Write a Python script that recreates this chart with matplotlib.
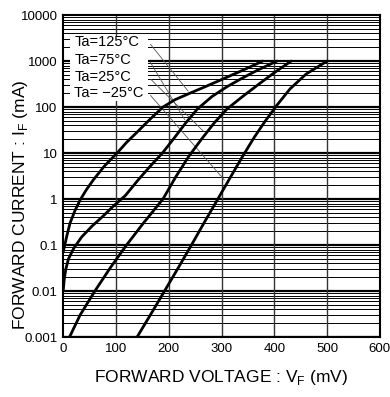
import numpy as np
import matplotlib
matplotlib.use("Agg")
import matplotlib.pyplot as plt

plt.rcParams['font.family'] = ['Liberation Sans', 'DejaVu Sans']
plt.rcParams['mathtext.fontset'] = 'custom'
plt.rcParams['mathtext.rm'] = 'Liberation Sans'

# forward voltage (mV) / forward current (mA)
v_125 = [0, 3, 7, 13, 22, 32, 44, 57, 78, 102, 120, 142, 165, 189, 212, 240, 270, 303, 340, 378]
i_125 = [0.07, 0.1, 0.16, 0.3, 0.55, 0.95, 1.6, 2.6, 5.2, 10, 17, 30, 55, 100, 145, 200,
         280, 410, 630, 1000]

v_75 = [0, 2, 5, 10, 20, 35, 55, 75, 95, 118, 142, 165, 188, 210, 232, 254, 282, 311, 340, 370, 405]
i_75 = [0.01, 0.018, 0.03, 0.05, 0.085, 0.15, 0.26, 0.42, 0.7, 1.2, 2.6, 5.2, 10,
        21, 45, 90, 170, 280, 430, 650, 1000]

v_25 = [12, 32, 60, 90, 120, 152, 189, 213, 238, 262, 286, 310, 340, 373, 400, 432]
i_25 = [0.001, 0.003, 0.01, 0.033, 0.1, 0.3, 1.0, 3.0, 8.5, 20, 45, 90, 170, 330, 560, 1000]

v_m25 = [140, 165, 192, 218, 243, 268, 293, 317, 340, 362, 383, 405, 430, 460, 500]
i_m25 = [0.001, 0.003, 0.01, 0.032, 0.1, 0.32, 1.0, 3.0, 8.5, 22, 50, 110, 250, 520, 1000]

curves = [(v_125, i_125, 'Ta=125°C'),
          (v_75, i_75, 'Ta=75°C'),
          (v_25, i_25, 'Ta=25°C'),
          (v_m25, i_m25, 'Ta= \u221225°C')]
# voltage where each label's leader line meets its curve
leader_v = [240, 233, 269, 309]

x_ticks = [0, 100, 200, 300, 400, 500, 600]
y_ticks = [0.001, 0.01, 0.1, 1, 10, 100, 1000, 10000]
y_ticklabels = ['0.001', '0.01', '0.1', '1', '10', '100', '1000', '10000']

fig = plt.figure(figsize=(3.9, 3.97), dpi=100)
ax = fig.add_axes([0.162, 0.151, 0.812, 0.811])
ax.set_yscale('log')
ax.set_xlim(0, 600)
ax.set_ylim(0.001, 10000)

# dense log grid like the datasheet
for d in y_ticks[:-1]:
    for k in range(1, 10):
        ax.axhline(d * k, color='black', lw=1.6 if k == 1 else 0.7, zorder=1)
for xv in x_ticks[1:-1]:
    ax.axvline(xv, color='#333333', lw=1.0, zorder=1)

for v, i, lab in curves:
    ax.plot(v, i, color='black', lw=2.0, solid_capstyle='round',
            solid_joinstyle='round', zorder=4)

# white box behind the labels
ax.add_patch(plt.Rectangle((0.022, 0.733), 0.245, 0.2, transform=ax.transAxes,
                           facecolor='white', edgecolor='none', zorder=2))
label_y = [0.916, 0.862, 0.807, 0.757]
for (v, i, lab), ly, lv in zip(curves, label_y, leader_v):
    ax.text(0.035, ly, lab, transform=ax.transAxes, fontsize=10.5,
            va='center', ha='left', zorder=5)
    ax.annotate('', xy=(lv, np.interp(lv, v, i)), xycoords='data',
                xytext=(0.27, ly), textcoords='axes fraction',
                arrowprops=dict(arrowstyle='-', color='#555555', lw=0.6),
                zorder=3)

ax.set_xticks(x_ticks)
ax.set_xticklabels([str(t) for t in x_ticks])
ax.set_yticks(y_ticks)
ax.set_yticklabels(y_ticklabels)
ax.minorticks_off()
ax.tick_params(length=0, labelsize=9.5, pad=4)
for s in ax.spines.values():
    s.set_linewidth(1.5)
    s.set_zorder(6)

ax.set_xlabel('FORWARD VOLTAGE : V$_\\mathregular{F}$ (mV)', fontsize=12.5, labelpad=10)
ax.set_ylabel('FORWARD CURRENT : I$_\\mathregular{F}$ (mA)', fontsize=12.5)
ax.yaxis.set_label_coords(-0.105, 0.41)

fig.savefig('out.png', dpi=100)
